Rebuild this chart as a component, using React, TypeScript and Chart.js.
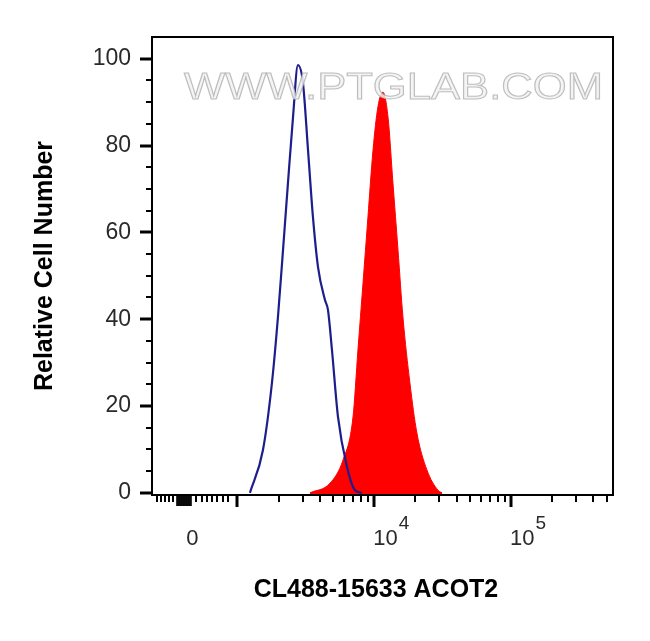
import React, { useEffect, useRef } from 'react';
import { Chart, registerables } from 'chart.js';

Chart.register(...registerables);

// x values are display positions on a log axis (log10 of fluorescence; 0 sits at 2.671)
const controlX = [3.091, 3.186, 3.252, 3.296, 3.333, 3.369, 3.406, 3.442, 3.479, 3.516, 3.552, 3.589, 3.640, 3.662, 3.691, 3.735, 3.801, 3.859, 3.910];
const controlY = [0, 9.8, 25.3, 40.5, 55.9, 71.3, 86.5, 98.5, 94.4, 78.9, 63.5, 52.0, 44.4, 42.1, 32.9, 17.5, 6.0, 0.6, 0];
const sampleX = [3.530, 3.676, 3.771, 3.845, 3.881, 3.918, 3.954, 3.991, 4.027, 4.064, 4.101, 4.137, 4.174, 4.210, 4.261, 4.312, 4.385, 4.466, 4.496];
const sampleY = [0, 2.2, 7.5, 17.5, 32.9, 48.3, 63.5, 78.9, 88.9, 92.3, 86.5, 71.3, 55.9, 40.5, 25.3, 13.8, 5.3, 0.6, 0];

const xMajorTicks = [2.671, 3, 4, 5];
const xMajorBase = ['0', '', '10', '10'];
const xMajorExp = ['', '', '4', '5'];
const xNearZeroTicks = [2.409, 2.438, 2.470, 2.501, 2.531, 2.697, 2.738, 2.775, 2.811, 2.848, 2.892, 2.933];
const xClusterTicks = [2.558, 2.565, 2.572, 2.580, 2.587, 2.594, 2.602, 2.609, 2.616, 2.624, 2.631, 2.638, 2.645, 2.652, 2.660];
const xLogMinorTicks = [3.301, 3.477, 3.602, 3.699, 3.778, 3.845, 3.903, 3.954, 4.301, 4.477, 4.602, 4.699, 4.778, 4.845, 4.903, 4.954, 5.301, 5.477, 5.602, 5.699];
const yMajorTicks = [0, 20, 40, 60, 80, 100];
const yMinorTicks = [5, 10, 15, 25, 30, 35, 45, 50, 55, 65, 70, 75, 85, 90, 95];

const xTitle = 'CL488-15633 ACOT2';
const yTitle = 'Relative Cell Number';
const watermark = 'WWW.PTGLAB.COM';

const FONT = "'Liberation Sans', Arial, sans-serif";

const axesPlugin = {
  id: 'flowAxes',
  afterDatasetsDraw(chart: any) {
    const { ctx, chartArea } = chart;
    const { left, top, right, bottom } = chartArea;
    ctx.save();
    ctx.beginPath();
    ctx.rect(left, top, right - left, bottom - top);
    ctx.clip();
    ctx.font = `36px ${FONT}`;
    const w = ctx.measureText(watermark).width;
    ctx.translate(184, 99);
    ctx.scale(419 / w, 1);
    ctx.textBaseline = 'alphabetic';
    ctx.fillStyle = 'rgba(242,242,242,0.85)';
    ctx.fillText(watermark, 0, 0);
    ctx.strokeStyle = 'rgba(175,175,175,0.8)';
    ctx.lineWidth = 1;
    ctx.strokeText(watermark, 0, 0);
    ctx.restore();
  },
  afterDraw(chart: any) {
    const { ctx, chartArea, scales } = chart;
    const { left, top, right, bottom } = chartArea;
    const xs = scales.x;
    const ys = scales.y;
    ctx.save();
    ctx.strokeStyle = '#000';
    ctx.lineWidth = 2;
    ctx.strokeRect(left, top, right - left, bottom - top);

    const vtick = (v: number, len: number, w: number) => {
      const x = Math.round(xs.getPixelForValue(v));
      ctx.lineWidth = w;
      ctx.beginPath();
      ctx.moveTo(x, bottom);
      ctx.lineTo(x, bottom + len);
      ctx.stroke();
    };
    const htick = (v: number, len: number, w: number) => {
      const y = Math.round(ys.getPixelForValue(v));
      ctx.lineWidth = w;
      ctx.beginPath();
      ctx.moveTo(left, y);
      ctx.lineTo(left - len, y);
      ctx.stroke();
    };
    xNearZeroTicks.forEach((v) => vtick(v, 7, 2));
    xClusterTicks.forEach((v) => vtick(v, 11, 1.6));
    xLogMinorTicks.forEach((v) => vtick(v, 7, 2));
    xMajorTicks.forEach((v, i) => { if (i > 0) vtick(v, 12, 3); });
    yMinorTicks.forEach((v) => htick(v, 6, 2));
    yMajorTicks.forEach((v) => htick(v, 12, 3));

    ctx.fillStyle = '#2a2a2a';
    ctx.textBaseline = 'alphabetic';
    xMajorTicks.forEach((v, i) => {
      const base = xMajorBase[i];
      if (!base) return;
      const x = xs.getPixelForValue(v);
      ctx.font = `22px ${FONT}`;
      const bw = ctx.measureText(base).width;
      const x0 = xMajorExp[i] ? x - 1 : x - bw / 2;
      ctx.textAlign = 'left';
      ctx.fillText(base, x0, 545);
      if (xMajorExp[i]) {
        ctx.font = `19px ${FONT}`;
        ctx.fillText(xMajorExp[i], x0 + bw + 1, 529);
      }
    });

    ctx.fillStyle = '#000';
    ctx.font = `bold 25px ${FONT}`;
    ctx.textAlign = 'center';
    ctx.textBaseline = 'middle';
    ctx.fillText(xTitle, 376, 590);
    ctx.restore();
  },
};

export default function App() {
  const ref = useRef<HTMLCanvasElement | null>(null);
  useEffect(() => {
    if (!ref.current) return;
    const chart = new Chart(ref.current, {
      type: 'line',
      data: {
        datasets: [
          {
            label: 'Control',
            data: controlX.map((x, i) => ({ x, y: controlY[i] })),
            borderColor: '#1d1d8c',
            borderWidth: 2.2,
            pointRadius: 0,
            fill: false,
            cubicInterpolationMode: 'monotone',
            order: 0,
          },
          {
            label: xTitle,
            data: sampleX.map((x, i) => ({ x, y: sampleY[i] })),
            borderColor: '#ff0000',
            backgroundColor: '#ff0000',
            borderWidth: 1,
            pointRadius: 0,
            fill: 'start',
            cubicInterpolationMode: 'monotone',
            order: 1,
          },
        ],
      },
      options: {
        responsive: false,
        animation: false,
        layout: { padding: { left: 0, top: 37, right: 37, bottom: 0 } },
        plugins: { legend: { display: false }, tooltip: { enabled: false } },
        scales: {
          x: {
            type: 'linear',
            min: 2.375,
            max: 5.746,
            grid: { display: false },
            border: { display: false },
            ticks: { display: false },
            afterFit: (s: any) => { s.height = 146; },
          },
          y: {
            type: 'linear',
            min: -0.5,
            max: 105,
            grid: { color: 'rgba(0,0,0,0)', drawOnChartArea: false, tickLength: 12 },
            border: { display: false },
            ticks: {
              color: '#2a2a2a',
              font: { family: FONT, size: 23 },
              padding: 9,
            },
            afterBuildTicks: (s: any) => { s.ticks = yMajorTicks.map((v) => ({ value: v })); },
            title: {
              display: true,
              text: yTitle,
              color: '#000',
              font: { family: FONT, size: 25, weight: 'bold' },
              padding: { top: 30, bottom: 0 },
            },
            afterFit: (s: any) => { s.width = 152; },
          },
        },
      },
      plugins: [axesPlugin],
    } as any);
    return () => chart.destroy();
  }, []);
  return (
    <div style={{ position: 'absolute', left: 0, top: 0, width: 650, height: 641, background: '#fff' }}>
      <canvas ref={ref} width={650} height={641} />
    </div>
  );
}
